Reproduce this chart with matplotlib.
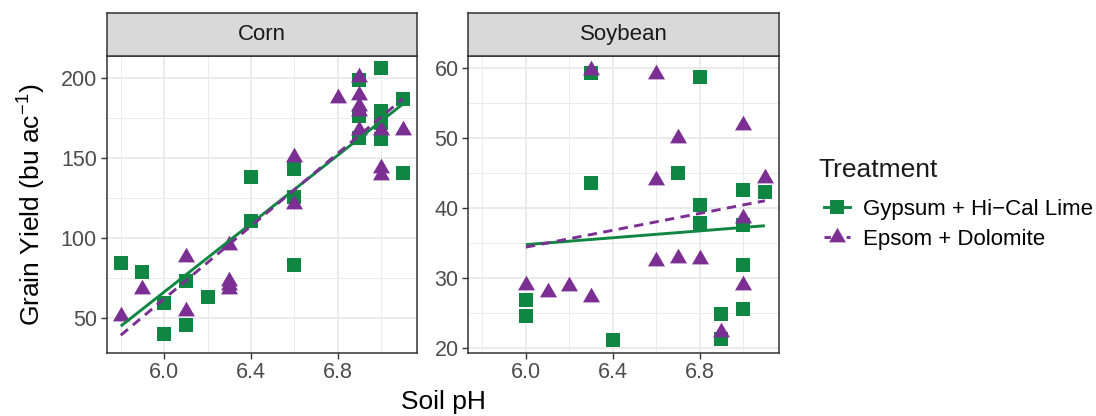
import numpy as np
import matplotlib
matplotlib.use("Agg")
import matplotlib.pyplot as plt
from matplotlib.lines import Line2D
from matplotlib.path import Path

plt.rcParams['font.family'] = ['Liberation Sans', 'DejaVu Sans']
plt.rcParams['mathtext.fontset'] = 'custom'
plt.rcParams['mathtext.rm'] = 'Liberation Sans'
plt.rcParams['mathtext.default'] = 'regular'

# ---------------- data ----------------
treatments = ["Gypsum + Hi\u2212Cal Lime", "Epsom + Dolomite"]
crops = ["Corn", "Soybean"]

corn_gyp_ph = [5.8, 5.9, 6.0, 6.0, 6.1, 6.1, 6.2, 6.4, 6.4, 6.6, 6.6, 6.6,
               6.9, 6.9, 6.9, 7.0, 7.0, 7.0, 7.0, 7.1, 7.1]
corn_gyp_yield = [84, 78.5, 59, 39.6, 73, 45.4, 62.7, 138, 110.6, 143, 125.6, 83,
                  198.6, 176, 162.5, 206, 179, 172, 161.5, 186.5, 140.6]
corn_eps_ph = [5.8, 5.9, 6.1, 6.1, 6.3, 6.3, 6.3, 6.3, 6.6, 6.6, 6.8, 6.9, 6.9,
               6.9, 6.9, 6.9, 7.0, 7.0, 7.0, 7.1]
corn_eps_yield = [51, 68, 88, 54, 95.5, 73, 70.5, 68, 150.5, 121, 187.5, 200.5, 189.5,
                  182.5, 179, 167.5, 167.5, 143.5, 139.5, 167.5]

soy_gyp_ph = [6.0, 6.0, 6.3, 6.3, 6.4, 6.7, 6.8, 6.8, 6.8, 6.9, 6.9, 7.0,
              7.0, 7.0, 7.0, 7.1]
soy_gyp_yield = [26.8, 24.5, 59.3, 43.5, 21.1, 44.9, 58.7, 40.4, 37.8, 24.8, 21.2, 42.6,
                 37.5, 31.8, 25.6, 42.2]
soy_eps_ph = [6.0, 6.1, 6.2, 6.3, 6.3, 6.6, 6.6, 6.6, 6.7, 6.7, 6.8, 6.9,
              7.0, 7.0, 7.0, 7.1]
soy_eps_yield = [29.0, 28.0, 28.8, 59.6, 27.3, 59.1, 44.0, 32.4, 49.9, 32.8, 32.7, 22.3,
                 51.8, 38.6, 29.0, 44.3]

corn_yticks = [50, 100, 150, 200]
soy_yticks = [20, 30, 40, 50, 60]
x_ticks = [6.0, 6.4, 6.8]

# ---------------- style ----------------
GREEN = "#0F8743"
PURPLE = "#7B2F93"
GRID = "#EBEBEB"
DARK = "#333333"
TICKC = "#4D4D4D"

W, H = 1096, 416
fig = plt.figure(figsize=(W / 100, H / 100), dpi=100)


def px_axes(x0, y0, x1, y1):
    return fig.add_axes([x0 / W, 1 - y1 / H, (x1 - x0) / W, (y1 - y0) / H])


tri = Path([(0, 1.155), (-1, -0.577), (1, -0.577), (0, 1.155)],
           [Path.MOVETO, Path.LINETO, Path.LINETO, Path.CLOSEPOLY])
DASH = (0, (3.2, 2.2))

panels = [
    ("Corn", (106.7, 416.7), corn_gyp_ph, corn_gyp_yield, corn_eps_ph, corn_eps_yield,
     corn_yticks, (28.1, 213.6), [75, 125, 175]),
    ("Soybean", (468.3, 779.0), soy_gyp_ph, soy_gyp_yield, soy_eps_ph, soy_eps_yield,
     soy_yticks, (19.3, 61.67), [25, 35, 45, 55]),
]

for name, (xa, xb), gx, gy, ex, ey, yt, ylim, yminor in panels:
    ax = px_axes(xa, 56, xb, 352.7)
    ax.set_xlim(5.735, 7.165)
    ax.set_ylim(*ylim)
    for v in [5.8, 6.2, 6.6, 7.0]:
        ax.axvline(v, color=GRID, lw=0.7, zorder=0)
    for v in yminor:
        ax.axhline(v, color=GRID, lw=0.7, zorder=0)
    for v in x_ticks:
        ax.axvline(v, color=GRID, lw=1.4, zorder=0)
    for v in yt:
        ax.axhline(v, color=GRID, lw=1.4, zorder=0)

    ax.scatter(gx, gy, marker='s', s=90, color=GREEN, linewidths=0, zorder=3)
    ax.scatter(ex, ey, marker=tri, s=200, color=PURPLE, linewidths=0, zorder=3)

    for xs, ys, col, ls in [(gx, gy, GREEN, '-'), (ex, ey, PURPLE, DASH)]:
        xs = np.array(xs, float)
        ys = np.array(ys, float)
        b, a = np.polyfit(xs, ys, 1)
        xl = np.array([xs.min(), xs.max()])
        ax.plot(xl, a + b * xl, color=col, lw=2.1, ls=ls, zorder=4,
                solid_capstyle='butt', dash_capstyle='butt')

    ax.set_xticks(x_ticks)
    ax.set_xticklabels([f"{v:.1f}" for v in x_ticks])
    ax.set_yticks(yt)
    ax.set_yticklabels([str(v) for v in yt])
    ax.tick_params(direction='out', length=4, width=1.0, color=DARK,
                   labelsize=15.5, labelcolor=TICKC, pad=3)
    for sp in ax.spines.values():
        sp.set_color(DARK)
        sp.set_linewidth(1.1)
    ax.set_facecolor('white')

    sx = px_axes(xa, 13, xb, 55.5)
    sx.set_facecolor('#D9D9D9')
    sx.set_xticks([])
    sx.set_yticks([])
    for sp in sx.spines.values():
        sp.set_color(DARK)
        sp.set_linewidth(1.1)
    sx.text(0.5, 0.5, name, ha='center', va='center', fontsize=16,
            color='#1A1A1A', transform=sx.transAxes)

fig.text(443 / W, 1 - 402 / H, "Soil pH", ha='center', va='center', fontsize=19)
fig.text(32 / W, 1 - 205 / H, "Grain Yield (bu ac$^{\u22121}$)", ha='center', va='center',
         rotation=90, fontsize=19)

# legend
fig.text(818 / W, 1 - 170 / H, "Treatment", ha='left', va='center', fontsize=19,
         color='#1A1A1A')
handles = [
    Line2D([], [], color=GREEN, lw=2.1, ls='-', marker='s', markersize=9.5, markeredgewidth=0),
    Line2D([], [], color=PURPLE, lw=2.1, ls=(0, (2.2, 1.6)), marker=tri, markersize=14,
           markeredgewidth=0),
]
leg = fig.legend(handles, treatments, loc='center left',
                 bbox_to_anchor=(824 / W, 1 - 224.5 / H), frameon=False, fontsize=16,
                 handlelength=1.15, handletextpad=0.62,
                 labelspacing=0.4, borderaxespad=0, borderpad=0)

fig.savefig("out.png", dpi=100)
